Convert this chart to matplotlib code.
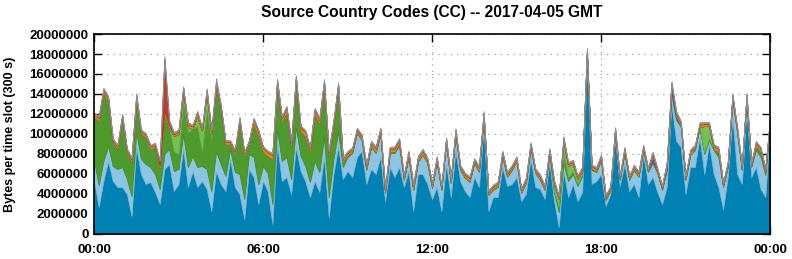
import numpy as np
import matplotlib
matplotlib.use("Agg")
import matplotlib.pyplot as plt
from matplotlib.ticker import FixedLocator, FuncFormatter

# bytes per 10 minute slot, in millions, stacked bottom -> top
dblue = [
    5.3, 2.7, 5.3, 7.3, 5.3, 4.7, 4.7, 4.0, 1.8, 8.7, 6.0, 5.0, 5.2, 4.2, 3.0, 6.5, 7.0, 4.3, 5.0, 8.5, 4.7, 6.3, 4.7, 5.3, 4.5,
    2.3, 6.3, 5.0, 4.3, 7.5, 4.7, 4.0, 1.5, 6.5, 5.7, 3.0, 5.3, 4.3, 1.0, 9.0, 5.3, 5.7, 4.0, 8.7, 6.3, 5.3, 3.7, 5.3, 4.2,
    7.7, 1.7, 6.0, 8.7, 5.5, 6.3, 5.7, 7.7, 8.3, 5.0, 6.5, 6.0, 7.7, 3.3, 6.7, 5.7, 6.7, 4.7, 6.3, 2.3, 6.0, 6.0, 5.0, 3.5,
    4.7, 2.3, 7.0, 3.7, 8.3, 5.3, 4.3, 3.7, 5.7, 4.7, 10.7, 2.3, 3.7, 3.7, 6.7, 4.8, 5.0, 5.7, 3.3, 4.0, 7.5, 4.7, 4.5, 3.5,
    7.2, 3.3, 0.7, 6.3, 3.7, 5.0, 3.3, 4.2, 17.3, 5.0, 5.3, 6.0, 2.8, 4.0, 9.5, 4.8, 7.0, 4.3, 5.0, 3.7, 8.0, 5.0, 5.7, 4.2,
    3.0, 4.7, 13.0, 9.3, 8.7, 4.0, 6.7, 6.7, 9.7, 6.0, 9.0, 6.0, 4.7, 2.5, 5.7, 11.7, 6.0, 5.0, 12.5, 5.7, 6.7, 4.5, 3.7, 10.7,
]
lblue = [
    2.0, 2.2, 2.0, 1.5, 1.5, 1.8, 2.0, 1.5, 2.0, 1.5, 1.5, 2.0, 1.5, 1.8, 1.5, 1.5, 1.5, 2.0, 1.5, 1.5, 2.0, 1.5, 2.0, 1.5, 2.0,
    2.0, 2.0, 2.0, 1.5, 1.0, 1.5, 2.0, 2.0, 1.5, 2.0, 2.0, 1.5, 1.8, 2.0, 1.5, 2.0, 2.0, 1.5, 2.0, 1.5, 1.5, 1.5, 2.0, 2.0,
    2.0, 2.0, 1.5, 1.5, 1.2, 1.4, 2.4, 2.4, 1.1, 1.4, 2.2, 2.1, 2.3, 0.8, 1.4, 2.4, 2.2, 0.7, 1.4, 2.1, 1.2, 1.9, 2.1, 1.1,
    2.5, 2.1, 2.1, 1.4, 1.6, 1.1, 1.3, 1.5, 1.4, 1.5, 0.9, 1.6, 0.7, 1.0, 1.0, 0.9, 1.4, 1.5, 0.8, 1.1, 1.1, 1.4, 0.9, 0.9,
    0.8, 0.9, 1.5, 0.8, 1.6, 1.0, 1.5, 1.6, 0.6, 1.4, 0.9, 1.4, 0.6, 0.4, 0.6, 0.6, 1.1, 1.1, 1.4, 2.0, 0.4, 1.2, 1.4, 1.9,
    1.4, 1.7, 1.0, 2.1, 2.0, 1.4, 1.2, 1.7, 0.9, 2.0, 0.4, 2.4, 3.0, 2.2, 1.0, 1.7, 4.1, 1.4, 0.9, 1.0, 1.7, 3.2, 2.2, 0.4,
]
green = [
    4.4, 6.4, 6.8, 4.5, 2.4, 2.0, 4.8, 2.7, 3.4, 3.3, 2.5, 2.7, 1.8, 2.7, 2.1, 4.0, 2.2, 2.0, 1.5, 3.2, 3.5, 2.7, 4.1, 1.5, 6.0,
    5.2, 6.4, 5.5, 3.2, 0.5, 1.8, 5.2, 4.3, 1.0, 3.3, 4.8, 1.4, 1.7, 4.5, 4.3, 3.9, 4.5, 3.3, 4.5, 2.4, 3.0, 3.0, 4.7, 4.8,
    5.1, 4.1, 3.3, 4.3, 0.5, 0.15, 0.12, 0.1, 0.12, 0.15, 0.12, 0.1, 0.12, 0.1, 0.12, 0.15, 0.12, 0.1, 0.12, 0.1, 0.12, 0.12, 0.1, 0.12,
    0.12, 0.1, 0.12, 0.1, 0.12, 0.12, 0.1, 0.12, 0.1, 0.12, 0.15, 0.1, 0.1, 0.12, 0.12, 0.1, 0.12, 0.12, 0.1, 0.12, 0.12, 0.1, 0.12, 0.12,
    0.12, 0.12, 0.5, 1.0, 0.4, 0.3, 0.2, 0.2, 0.15, 0.12, 0.12, 0.1, 0.12, 0.1, 0.12, 0.1, 0.15, 0.12, 0.12, 0.15, 0.12, 0.12, 0.15, 0.12,
    0.12, 0.12, 0.2, 0.15, 0.15, 0.12, 0.12, 0.15, 0.12, 0.2, 0.12, 0.12, 0.5, 0.12, 0.12, 0.2, 0.15, 0.12, 0.2, 0.12, 0.4, 0.5, 0.3, 0.12,
]
lgreen = [
    0, 0, 0, 0, 0, 0, 0, 0, 0, 0, 0, 0, 0, 0, 0, 0, 0, 1.5, 2.0, 1.0, 0.5, 0, 1.0, 2.0, 1.5,
    0.5, 0, 0, 0, 0, 0, 0, 0, 0, 0, 0, 0, 0, 0, 0, 0, 0, 0, 0, 0, 0, 0, 0, 0,
    0, 0, 0, 0, 0, 0, 0, 0, 0, 0, 0, 0, 0, 0, 0, 0, 0, 0, 0, 0, 0, 0, 0, 0,
    0, 0, 0, 0, 0, 0, 0, 0, 0, 0, 0, 0, 0, 0, 0, 0, 0, 0, 0, 0, 0, 0, 0, 0,
    0, 0.7, 0.8, 1.2, 1.1, 0.7, 0.5, 0.3, 0, 0, 0, 0, 0, 0, 0, 0, 0, 0, 0, 0, 0, 0, 0, 0,
    0, 0, 0, 0, 0, 0, 0, 0, 0, 2.6, 1.3, 0, 0, 0, 0, 0, 0, 0, 0, 0, 0, 0, 0, 0,
]
navy = [
    0, 0, 0, 0, 0, 0, 0, 0, 0, 0, 0, 0, 0, 0, 0, 0, 0, 0, 0, 0, 0, 0, 0, 0, 0,
    0, 0, 0, 0, 0, 0, 0, 0, 0, 0, 0, 0, 0, 0, 0, 0, 0, 0, 0, 0, 0, 0, 0, 0,
    0, 0, 0, 0, 0, 0, 0, 0, 0, 0, 0, 0, 0, 0, 0, 0, 0, 0, 0, 0, 0, 0, 0, 0,
    0, 0, 0, 0, 0, 0, 0, 0, 0, 0, 0, 0, 0, 0, 0, 0, 0, 0, 0, 0, 0, 0, 0, 0,
    0, 0, 0, 0, 0, 0, 0, 0, 0, 0, 0, 0, 0, 0, 0, 0, 0, 0, 0, 0, 0, 0, 0.5, 0,
    0, 0.2, 0.6, 0.3, 0, 0, 0, 0, 0, 0, 0, 0, 0, 0, 0, 0, 0, 0, 0, 0, 0, 0, 0, 0,
]
orange = [
    0.25, 0.3, 0.25, 0.3, 0.2, 0.25, 0.3, 0.2, 0.25, 0.3, 0.25, 0.2, 0.25, 0.2, 0.25, 0.3, 0.25, 0.2, 0.25, 0.3, 0.25, 0.25, 0.3, 0.2, 0.3,
    0.25, 0.3, 0.25, 0.2, 0.2, 0.25, 0.3, 0.25, 0.2, 0.4, 0.45, 0.4, 0.35, 0.4, 0.45, 0.4, 0.4, 0.35, 0.4, 0.45, 0.4, 0.35, 0.4, 0.4,
    0.4, 0.35, 0.4, 0.4, 0.25, 0.25, 0.25, 0.2, 0.25, 0.3, 0.3, 0.35, 0.3, 0.25, 0.3, 0.3, 0.35, 0.25, 0.3, 0.3, 0.3, 0.3, 0.25, 0.25,
    0.25, 0.2, 0.25, 0.25, 0.3, 0.2, 0.25, 0.25, 0.2, 0.3, 0.25, 0.2, 0.25, 0.25, 0.3, 0.25, 0.2, 0.25, 0.2, 0.25, 0.25, 0.2, 0.25, 0.2,
    0.25, 0.2, 0.2, 0.25, 0.2, 0.25, 0.2, 0.25, 0.2, 0.25, 0.2, 0.25, 0.2, 0.2, 0.25, 0.2, 0.25, 0.2, 0.2, 0.25, 0.2, 0.2, 0.25, 0.2,
    0.2, 0.25, 0.2, 0.25, 0.25, 0.2, 0.25, 0.2, 0.25, 0.2, 0.2, 0.25, 0.3, 0.2, 0.25, 0.2, 0.25, 0.2, 0.25, 0.2, 0.3, 0.3, 0.25, 0.2,
]
red = [
    0.06, 0.06, 0.08, 0.06, 0.05, 0.06, 0.06, 0.05, 0.06, 0.08, 0.06, 0.06, 0.05, 0.08, 0.4, 5.2, 0.3, 0.06, 0.06, 0.08, 0.06, 0.06, 0.06, 0.05, 0.06,
    0.06, 0.08, 0.06, 0.05, 0.06, 0.06, 0.06, 0.05, 0.06, 0.08, 0.06, 0.06, 0.05, 0.06, 0.08, 0.06, 0.06, 0.05, 0.08, 0.06, 0.06, 0.05, 0.06, 0.06,
    0.08, 0.06, 0.06, 0.08, 0.05, 0.06, 0.06, 0.08, 0.06, 0.05, 0.06, 0.06, 0.08, 0.05, 0.06, 0.06, 0.08, 0.05, 0.06, 0.06, 0.05, 0.06, 0.06, 0.05,
    0.06, 0.05, 0.06, 0.06, 0.08, 0.05, 0.06, 0.06, 0.05, 0.06, 0.08, 0.05, 0.06, 0.05, 0.06, 0.06, 0.05, 0.06, 0.05, 0.06, 0.06, 0.05, 0.06, 0.05,
    0.06, 0.05, 0.05, 0.08, 0.06, 0.06, 0.05, 0.06, 0.06, 0.05, 0.06, 0.06, 0.05, 0.05, 0.06, 0.05, 0.06, 0.05, 0.06, 0.05, 0.06, 0.05, 0.08, 0.05,
    0.05, 0.06, 0.08, 0.06, 0.06, 0.05, 0.06, 0.05, 0.06, 0.05, 0.06, 0.06, 0.08, 0.05, 0.06, 0.06, 0.06, 0.05, 0.06, 0.05, 0.06, 0.06, 0.05, 0.06,
]
gray = [
    0.15, 0.15, 0.2, 0.15, 0.12, 0.15, 0.15, 0.12, 0.15, 0.2, 0.15, 0.15, 0.12, 0.15, 0.15, 0.3, 0.15, 0.15, 0.15, 0.2, 0.15, 0.15, 0.15, 0.12, 0.2,
    0.15, 0.5, 0.2, 0.15, 0.12, 0.15, 0.15, 0.12, 0.15, 0.15, 0.15, 0.12, 0.15, 0.15, 0.2, 0.15, 0.15, 0.12, 0.2, 0.15, 0.15, 0.12, 0.15, 0.15,
    0.2, 0.15, 0.15, 0.2, 0.12, 0.15, 0.15, 0.15, 0.15, 0.12, 0.15, 0.15, 0.15, 0.12, 0.15, 0.15, 0.15, 0.12, 0.15, 0.12, 0.15, 0.15, 0.15, 0.12,
    0.15, 0.12, 0.15, 0.12, 0.15, 0.15, 0.12, 0.15, 0.12, 0.15, 0.2, 0.12, 0.12, 0.15, 0.15, 0.12, 0.15, 0.15, 0.12, 0.15, 0.15, 0.12, 0.15, 0.12,
    0.15, 0.12, 0.12, 0.15, 0.15, 0.12, 0.12, 0.15, 0.3, 0.12, 0.15, 0.15, 0.12, 0.12, 0.15, 0.12, 0.15, 0.12, 0.15, 0.12, 0.15, 0.12, 0.15, 0.15,
    0.12, 0.15, 0.2, 0.15, 0.15, 0.12, 0.15, 0.12, 0.15, 0.15, 0.12, 0.15, 0.15, 0.12, 0.15, 0.2, 0.15, 0.12, 0.2, 0.12, 0.15, 0.15, 0.12, 0.15,
]

series = [dblue, lblue, green, lgreen, navy, orange, red, gray]
colours = ["#0081b4", "#8cc5e4", "#4f9a2d", "#74c052", "#3b5cb6", "#e68a00", "#c13a2a", "#9c9c9c"]
edges = ["#006b98", "#7ab6d6", "#448c26", "#66b046", "#3352a6", "#d87e00", "#b03324", "#8c8c8c"]

hour_ticks = [0, 6, 12, 18, 24]
hour_labels = ["00:00", "06:00", "12:00", "18:00", "00:00"]
ytick_values = list(range(0, 20000001, 2000000))

slot_minutes = 10
hours = np.arange(len(dblue)) * slot_minutes / 60.0

plt.rcParams["font.family"] = ["Liberation Sans", "DejaVu Sans"]
plt.rcParams["font.weight"] = "bold"

W, H = 792, 259
fig = plt.figure(figsize=(W / 100, H / 100), dpi=100)
ax = fig.add_axes([94 / W, 1 - 234 / H, (770 - 94) / W, 200 / H])

layers = [np.array(s) * 1e6 for s in series]
polys = ax.stackplot(hours, *layers, colors=colours, zorder=2)
for p, ec in zip(polys, edges):
    p.set_edgecolor(ec)
    p.set_linewidth(0.6)

ax.set_xlim(0, 24)
ax.set_ylim(0, 20000000)
ax.xaxis.set_major_locator(FixedLocator(hour_ticks))
ax.xaxis.set_major_formatter(FuncFormatter(lambda v, pos: hour_labels[pos] if pos is not None and pos < len(hour_labels) else ""))
ax.yaxis.set_major_locator(FixedLocator(ytick_values))
ax.yaxis.set_major_formatter(FuncFormatter(lambda v, pos: f"{int(v)}"))

ax.grid(True, color="#a0a0a0", linestyle=(0, (1, 4)), linewidth=0.9, zorder=1)
ax.set_axisbelow(True)

ax.tick_params(direction="in", length=6, width=1, top=True, right=True, labelsize=9.5)
ax.tick_params(axis="x", pad=7)
ax.tick_params(axis="y", pad=4)
for s in ax.spines.values():
    s.set_linewidth(1.2)
    s.set_zorder(5)

fig.text(432 / W, 1 - 12 / H, "Source Country Codes (CC) -- 2017-04-05 GMT",
         ha="center", va="center", fontsize=11.2, fontweight="bold")
fig.text(10 / W, 1 - 134 / H, "Bytes per time slot (300 s)", rotation=90,
         ha="center", va="center", fontsize=9, fontweight="bold")

fig.savefig("out.png", dpi=100)
